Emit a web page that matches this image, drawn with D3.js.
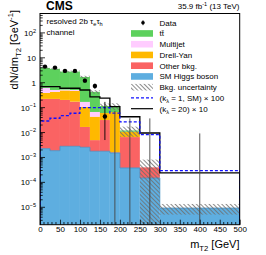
<!DOCTYPE html>
<html>
<head>
<meta charset="utf-8">
<script src="https://cdn.jsdelivr.net/npm/d3@7"></script>
<style>
  body { margin: 0; background: #fff; }
  text { font-family: "Liberation Sans", Arial, sans-serif; fill: #000; }
</style>
</head>
<body>
<div id="plot"></div>
<script>
// mT2 bin edges (GeV)
var edges = [0, 25, 50, 75, 100, 125, 150, 175, 200, 250, 300, 500]

// backgrounds per bin, dN/dmT2 [1/GeV], bottom of the stack first
var smHiggs = [0.00225, 0.00187, 0.0028, 0.0028, 0.00256, 0.00177, 0.00177, 0.00152, 0.00038, 0.00015, 0.0000093]
var otherBkg = [0.222, 0.222, 0.201, 0.171, 0.0142, 0.0032, 0.030, 0.0001, 0.0062, 0.00025, 0]
var drellYan = [0.166, 0.206, 0.286, 0.296, 0.090, 0.0385, 0.029, 0.065, 0.0042, 0, 0]
var multijet = [0.23, 0.08, 0.04, 0.04, 0.063, 0.0235, 0, 0, 0, 0, 0]
var ttbar = [3.31, 3.09, 2.27, 2.29, 1.53, 0.363, 0.056, 0.05, 0.0013, 0, 0]

// bkg. uncertainty band
var uncLo = [3.6, 3.3, 2.55, 2.55, 1.5, 0.36, 0.09, 0.08, 0.0068, 0.000001, 0.0000051]
var uncHi = [4.3, 3.9, 3.05, 3.05, 1.9, 0.5, 0.145, 0.15, 0.0173, 0.00082, 0.0000136]

// data (0 = empty bin, only upper error drawn)
var dataVal = [4.43, 4.04, 2.98, 2.98, 1.21, 0.74, 0.044, 0, 0, 0, 0]
var dataLo = [4.0, 3.65, 2.65, 2.65, 1.0, 0.57, 0.005, 0, 0, 0, 0]
var dataHi = [4.85, 4.45, 3.35, 3.35, 1.45, 0.92, 0.17, 0.074, 0.037, 0.037, 0.0092]

// signals as drawn (already scaled)
var klSM = [0.029, 0.0375, 0.048, 0.0596, 0.1, 0.1, 0.1, 0.06, 0.027, 0.0082, 0.000295]
var kl20 = [0.7, 0.7, 0.6, 0.6, 0.51, 0.27, 0.24, 0.11, 0.043, 0.0096, 0.00024]

var xTicks = [0, 50, 100, 150, 200, 250, 300, 350, 400, 450, 500]
var yTicks = [1e-5, 1e-4, 1e-3, 1e-2, 1e-1, 1, 10, 100]
var yTickLabels = [['10', '-5'], ['10', '-4'], ['10', '-3'], ['10', '-2'], ['10', '-1'], ['1', ''], ['10', ''], ['10', '2']]

var W = 266, H = 255
var fr = { left: 40, right: 239.7, top: 13.5, bottom: 224.7 }
var yMin = 2e-6, yMax = 600

var svg = d3.select('#plot').append('svg')
  .attr('width', W).attr('height', H)

var x = d3.scaleLinear().domain([0, 500]).range([fr.left, fr.right])
var y = d3.scaleLog().domain([yMin, yMax]).range([fr.bottom, fr.top])

var defs = svg.append('defs')
defs.append('clipPath').attr('id', 'clip')
  .append('rect').attr('x', fr.left).attr('y', fr.top).attr('width', fr.right - fr.left).attr('height', fr.bottom - fr.top)
var pat = defs.append('pattern').attr('id', 'hatch')
  .attr('patternUnits', 'userSpaceOnUse').attr('width', 3).attr('height', 3)
  .attr('patternTransform', 'rotate(-45)')
pat.append('line').attr('x1', 0.5).attr('y1', 0).attr('x2', 0.5).attr('y2', 3)
  .attr('stroke', '#6e6e6e').attr('stroke-width', 0.8)

var plot = svg.append('g').attr('clip-path', 'url(#clip)')

// stacked backgrounds
var comps = [
  { vals: smHiggs, color: '#5eaee0' },
  { vals: otherBkg, color: '#fa6363' },
  { vals: drellYan, color: '#ffb900' },
  { vals: multijet, color: '#ffccff' },
  { vals: ttbar, color: '#5dd15d' }
]
for (let i = 0; i < edges.length - 1; i++) {
  var cum = 0
  comps.forEach(function(c) {
    var lo = cum, hi = cum + c.vals[i]
    cum = hi
    if (c.vals[i] <= 0) return
    plot.append('rect')
      .attr('x', x(edges[i]))
      .attr('width', x(edges[i + 1]) - x(edges[i]))
      .attr('y', y(hi))
      .attr('height', y(Math.max(lo, yMin)) - y(hi))
      .attr('fill', c.color)
  })
}

// darker top edge of the Higgs histogram
function stepPts(vals) {
  var pts = [[edges[0], yMin]]
  vals.forEach(function(v, i) { pts.push([edges[i], v]) })
  pts.push([edges[edges.length - 1], vals[vals.length - 1]])
  pts.push([edges[edges.length - 1], yMin])
  return pts
}
var stepLine = d3.line()
  .x(d => x(d[0]))
  .y(d => y(Math.max(d[1], yMin)))
  .curve(d3.curveStepAfter)

plot.append('path').attr('d', stepLine(stepPts(smHiggs)))
  .attr('fill', 'none').attr('stroke', '#3f8fc6').attr('stroke-width', 0.8)

// uncertainty band
for (let i = 0; i < edges.length - 1; i++) {
  plot.append('rect')
    .attr('x', x(edges[i]))
    .attr('width', x(edges[i + 1]) - x(edges[i]))
    .attr('y', y(uncHi[i]))
    .attr('height', y(Math.max(uncLo[i], yMin)) - y(uncHi[i]))
    .attr('fill', 'url(#hatch)')
}

// signal histograms
plot.append('path').attr('d', stepLine(stepPts(kl20)))
  .attr('fill', 'none').attr('stroke', '#000').attr('stroke-width', 1.3)
plot.append('path').attr('d', stepLine(stepPts(klSM)))
  .attr('fill', 'none').attr('stroke', '#1010ff').attr('stroke-width', 1.3)
  .attr('stroke-dasharray', '3,2')

// data
for (let i = 0; i < edges.length - 1; i++) {
  var cx = x((edges[i] + edges[i + 1]) / 2)
  plot.append('line')
    .attr('x1', cx).attr('x2', cx)
    .attr('y1', y(Math.max(dataLo[i], yMin))).attr('y2', y(dataHi[i]))
    .attr('stroke', dataVal[i] > 0 ? '#000' : '#444').attr('stroke-width', 0.9)
  if (dataVal[i] > 0) {
    plot.append('circle').attr('cx', cx).attr('cy', y(dataVal[i])).attr('r', 2.2).attr('fill', '#000')
  }
}

// axes, ticks pointing inward
var xMinor = d3.range(0, 501, 10).filter(d => d % 50 != 0)
var xAxis = svg.append('g').attr('transform', 'translate(0,' + fr.bottom + ')')
xAxis.call(d3.axisBottom(x).tickValues(xTicks).tickSizeInner(-5).tickSizeOuter(0).tickPadding(2).tickFormat(d3.format('d')))
xAxis.select('.domain').remove()
xAxis.selectAll('text').attr('font-size', 8).attr('font-family', '"Liberation Sans", Arial, sans-serif')
xAxis.selectAll('.tick line').attr('stroke-width', 0.8)
xAxis.selectAll('line.minor').data(xMinor).enter().append('line')
  .attr('x1', d => x(d)).attr('x2', d => x(d)).attr('y1', 0).attr('y2', -2.7)
  .attr('stroke', '#000').attr('stroke-width', 0.8)

var yMinor = []
for (let e = -6; e <= 2; e++) {
  for (let k = 2; k <= 9; k++) {
    var v = k * Math.pow(10, e)
    if (v > yMin && v < yMax) yMinor.push(v)
  }
}
var yAxis = svg.append('g').attr('transform', 'translate(' + fr.left + ',0)')
yAxis.selectAll('line.major').data(yTicks).enter().append('line')
  .attr('x1', 0).attr('x2', 5).attr('y1', d => y(d)).attr('y2', d => y(d))
  .attr('stroke', '#000').attr('stroke-width', 0.8)
yAxis.selectAll('line.minor').data(yMinor).enter().append('line')
  .attr('x1', 0).attr('x2', 2.7).attr('y1', d => y(d)).attr('y2', d => y(d))
  .attr('stroke', '#000').attr('stroke-width', 0.8)

function rich(sel, parts, size) {
  var cur = 0
  parts.forEach(function(p) {
    if (p[0] === '') return
    var off = p[1] == 'sup' ? -size * 0.4 : (p[1] == 'sub' ? size * 0.3 : 0)
    var t = sel.append('tspan').text(p[0]).attr('dy', off - cur)
    if (p[1] != 'n') t.attr('font-size', size * 0.7)
    cur = off
  })
  return sel
}

yTicks.forEach(function(d, i) {
  var t = svg.append('text').attr('x', 36).attr('y', y(d) + 3)
    .attr('text-anchor', 'end').attr('font-size', 8)
  rich(t, [[yTickLabels[i][0], 'n'], [yTickLabels[i][1].replace('-', '\u2212'), 'sup']], 8)
})

// frame
svg.append('rect').attr('x', fr.left).attr('y', fr.top).attr('width', fr.right - fr.left).attr('height', fr.bottom - fr.top)
  .attr('fill', 'none').attr('stroke', '#000').attr('stroke-width', 1)

// titles
svg.append('text').attr('x', 46).attr('y', 10).attr('font-size', 12).attr('font-weight', 'bold').text('CMS')
rich(svg.append('text').attr('x', 239.5).attr('y', 9).attr('text-anchor', 'end').attr('font-size', 8),
  [['35.9 fb', 'n'], ['-1', 'sup'], [' (13 TeV)', 'n']], 8)
rich(svg.append('text').attr('x', 46.5).attr('y', 24).attr('font-size', 8),
  [['resolved 2b \u03c4', 'n'], ['e', 'sub'], ['\u03c4', 'n'], ['h', 'sub']], 8)
svg.append('text').attr('x', 46.5).attr('y', 35).attr('font-size', 8).text('channel')

rich(svg.append('text').attr('text-anchor', 'end').attr('font-size', 11)
  .attr('transform', 'translate(17.5,10) rotate(-90)'),
  [['dN/dm', 'n'], ['T2', 'sub'], [' [GeV', 'n'], ['-1', 'sup'], [']', 'n']], 11)
rich(svg.append('text').attr('x', 239.5).attr('y', 248).attr('text-anchor', 'end').attr('font-size', 11),
  [['m', 'n'], ['T2', 'sub'], [' [GeV]', 'n']], 11)

// legend
var legendItems = [
  { type: 'data', parts: [['Data', 'n']] },
  { type: 'box', color: '#5dd15d', parts: [['tt\u0304', 'n']] },
  { type: 'box', color: '#ffccff', parts: [['Multijet', 'n']] },
  { type: 'box', color: '#ffb900', parts: [['Drell-Yan', 'n']] },
  { type: 'box', color: '#fa6363', parts: [['Other bkg.', 'n']] },
  { type: 'box', color: '#5eaee0', parts: [['SM Higgs boson', 'n']] },
  { type: 'hatch', parts: [['Bkg. uncertainty', 'n']] },
  { type: 'dash', parts: [['(k', 'n'], ['\u03bb', 'sub'], [' = 1, SM) \u00d7 100', 'n']] },
  { type: 'line', parts: [['(k', 'n'], ['\u03bb', 'sub'], [' = 20) \u00d7 10', 'n']] }
]
var legend = svg.append('g')
legendItems.forEach(function(it, i) {
  var cy = 22.7 + i * 10.75
  if (it.type == 'data') {
    legend.append('line').attr('x1', 143).attr('x2', 143).attr('y1', cy - 2.5).attr('y2', cy + 2.5).attr('stroke', '#000').attr('stroke-width', 0.8)
    legend.append('circle').attr('cx', 143).attr('cy', cy).attr('r', 1.8).attr('fill', '#000')
  } else if (it.type == 'box') {
    legend.append('rect').attr('x', 131).attr('y', cy - 3.3).attr('width', 22).attr('height', 6.6).attr('fill', it.color)
  } else if (it.type == 'hatch') {
    legend.append('rect').attr('x', 131).attr('y', cy - 3.3).attr('width', 22).attr('height', 6.6).attr('fill', 'url(#hatch)')
  } else {
    legend.append('line').attr('x1', 131).attr('x2', 153).attr('y1', cy).attr('y2', cy)
      .attr('stroke', it.type == 'dash' ? '#1010ff' : '#000').attr('stroke-width', 1.2)
      .attr('stroke-dasharray', it.type == 'dash' ? '3,2' : null)
  }
  rich(legend.append('text').attr('x', 159.5).attr('y', cy + 3).attr('font-size', 8), it.parts, 8)
})
</script>
</body>
</html>
